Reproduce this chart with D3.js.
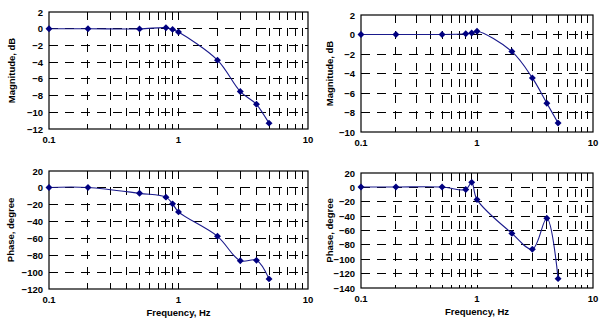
<!DOCTYPE html>
<html>
<head>
<meta charset="utf-8">
<script src="https://cdn.jsdelivr.net/npm/d3@7"></script>
<style>
  body { margin: 0; background: #fff; }
  text { font-family: "Liberation Sans", Arial, sans-serif; font-weight: bold; fill: #000; }
</style>
</head>
<body>
<div id="plothere"></div>
<script>
// frequencies shared by all four panels (Hz)
var freq = [0.1, 0.2, 0.5, 0.8, 0.9, 1, 2, 3, 4, 5];
var magLeft = [0, 0, -0.02, 0.12, -0.08, -0.4, -3.76, -7.52, -9.04, -11.3];
var magRight = [0, 0, 0, 0.07, 0.15, 0.34, -1.75, -4.45, -7.05, -9.07];
var phaseLeft = [0.5, 0.5, -6.5, -11, -19, -28.5, -57.5, -86.5, -86, -108];
var phaseRight = [0.5, 0.5, 0.5, -3, 7, -17, -64, -86, -43, -127];

var xTicks = [0.1, 1, 10];
var magTicksLeft = [2, 0, -2, -4, -6, -8, -10, -12];
var magTicksRight = [2, 0, -2, -4, -6, -8, -10];
var phaseTicksLeft = [20, 0, -20, -40, -60, -80, -100, -120];
var phaseTicksRight = [20, 0, -20, -40, -60, -80, -100, -120, -140];

var svg = d3.select("#plothere")
  .append("svg")
  .attr("width", 602)
  .attr("height", 322);

function fmt(v) {
  return v < 0 ? "\u2212" + Math.abs(v) : String(v);
}

function Panel(box, vals, yTicks, yLabel, xLabel) {
  var x = d3.scaleLog().domain([0.1, 10]).range([box.left, box.right]);
  var y = d3.scaleLinear()
    .domain([yTicks[yTicks.length - 1], yTicks[0]])
    .range([box.bottom, box.top]);
  var g = svg.append("g");

  // horizontal dashed grid
  g.append("g").selectAll("line")
    .data(yTicks.slice(1, -1))
    .enter().append("line")
    .attr("x1", box.left).attr("x2", box.right)
    .attr("y1", function(d) { return y(d); })
    .attr("y2", function(d) { return y(d); })
    .attr("stroke", "#000").attr("stroke-width", 1)
    .attr("stroke-dasharray", "9,7")
    .attr("shape-rendering", "crispEdges");

  // vertical dashed grid at log minor ticks
  var minors = x.ticks().filter(function(d) { return d > 0.1 && d < 10; });
  g.append("g").selectAll("line")
    .data(minors)
    .enter().append("line")
    .attr("x1", function(d) { return x(d); })
    .attr("x2", function(d) { return x(d); })
    .attr("y1", box.top).attr("y2", box.bottom)
    .attr("stroke", "#000").attr("stroke-width", 1)
    .attr("stroke-dasharray", "8,8")
    .attr("shape-rendering", "crispEdges");

  // frame
  g.append("rect")
    .attr("x", box.left).attr("y", box.top)
    .attr("width", box.right - box.left).attr("height", box.bottom - box.top)
    .attr("fill", "none").attr("stroke", "#000").attr("stroke-width", 1.2);

  // y tick labels
  g.append("g").selectAll("text")
    .data(yTicks)
    .enter().append("text")
    .attr("x", box.left - 6)
    .attr("y", function(d) { return y(d) + 3.5; })
    .attr("text-anchor", "end")
    .attr("font-size", 9.5)
    .text(fmt);

  // x tick labels
  g.append("g").selectAll("text")
    .data(xTicks)
    .enter().append("text")
    .attr("x", function(d) { return x(d); })
    .attr("y", box.bottom + 14)
    .attr("text-anchor", "middle")
    .attr("font-size", 9.5)
    .text(function(d) { return String(d); });

  // axis titles
  var cy = (box.top + box.bottom) / 2;
  g.append("text")
    .attr("transform", "translate(" + box.ylab + "," + cy + ") rotate(-90)")
    .attr("text-anchor", "middle")
    .attr("font-size", 9.5)
    .text(yLabel);
  if (xLabel) {
    g.append("text")
      .attr("x", x(1))
      .attr("y", box.bottom + 27)
      .attr("text-anchor", "middle")
      .attr("font-size", 9.5)
      .text(xLabel);
  }

  var pts = freq.map(function(f, i) { return {f: f, v: vals[i]}; });

  g.append("path")
    .datum(pts)
    .attr("d", d3.line()
      .x(function(d) { return x(d.f); })
      .y(function(d) { return y(d.v); })
      .curve(d3.curveCatmullRom.alpha(0.5)))
    .attr("fill", "none")
    .attr("stroke", "#1a1a8c")
    .attr("stroke-width", 1.1);

  g.append("g").selectAll("path")
    .data(pts)
    .enter().append("path")
    .attr("d", d3.symbol().type(d3.symbolSquare).size(24))
    .attr("transform", function(d) {
      return "translate(" + x(d.f) + "," + y(d.v) + ") rotate(45)";
    })
    .attr("fill", "#000080");
}

Panel({left: 49, right: 308, top: 12, bottom: 129, ylab: 15}, magLeft, magTicksLeft, "Magnitude, dB");
Panel({left: 361, right: 593, top: 15, bottom: 132, ylab: 333}, magRight, magTicksRight, "Magnitude, dB");
Panel({left: 49, right: 308, top: 171, bottom: 289, ylab: 14}, phaseLeft, phaseTicksLeft, "Phase, degree", "Frequency, Hz");
Panel({left: 361, right: 593, top: 173, bottom: 288, ylab: 333}, phaseRight, phaseTicksRight, "Phase, degree", "Frequency, Hz");
</script>
</body>
</html>
